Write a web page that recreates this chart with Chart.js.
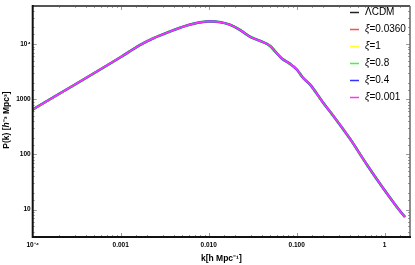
<!DOCTYPE html>
<html>
<head>
<meta charset="utf-8">
<script src="https://cdn.jsdelivr.net/npm/chart.js@4/dist/chart.umd.min.js"></script>
<style>
  html, body { margin: 0; padding: 0; background: #fff; }
  canvas { display: block; }
</style>
</head>
<body>
<canvas id="pk-chart" width="415" height="265"></canvas>
<script>
/* ─── Data ────────────────────────────────────────────────────────────── */
const kValues = [0.0001, 0.001, 0.00166, 0.00233, 0.00363, 0.00613, 0.01035, 0.01343,
  0.01746, 0.0227, 0.0295, 0.0383, 0.0497, 0.0567, 0.068, 0.0839, 0.1007, 0.118,
  0.1417, 0.199, 0.258, 0.403, 0.63, 0.957, 1.49, 1.70];
// all models overlap at this scale, so they share one curve
const pValues = [650, 5800, 9600, 12640, 16870, 22490, 25640, 24900,
  22280, 17990, 13550, 11400, 9290, 7410, 5450, 4390, 3430, 2440,
  1850, 873, 512, 193, 64.7, 24.7, 9.5, 7.4];

const seriesNames  = ["ΛCDM", "ξ=0.0360", "ξ=1", "ξ=0.8", "ξ=0.4", "ξ=0.001"];
const seriesColors = ["#222222", "#ff4d4d", "#ffff33", "#33ff33", "#3333ff", "#ff33ff"];
const seriesWidths = [2, 2, 2, 2.8, 2.2, 1.7];

const xTickValues = [0.0001, 0.001, 0.01, 0.1, 1];
const xTickLabels = ["10⁻⁴", "0.001", "0.010", "0.100", "1"];
const yTickValues = [10, 100, 1000, 10000];
const yTickLabels = ["10", "100", "1000", "10⁴"];

const FONT = "'Liberation Sans', Arial, sans-serif";

/* ─── Helpers ─────────────────────────────────────────────────────────── */
function labelFor(values, labels, v) {
  const i = values.findIndex(t => Math.abs(Math.log10(t) - Math.log10(v)) < 1e-6);
  return i >= 0 ? labels[i] : "";
}
function isDecade(v) {
  const l = Math.log10(v);
  return Math.abs(l - Math.round(l)) < 1e-6;
}
// draw text pieces [{t, it}] centred on (0,0)
function drawPieces(ctx, pieces, size, weight) {
  const fontOf = p => `${p.it ? "italic " : ""}${weight} ${size}px ${FONT}`;
  let w = 0;
  pieces.forEach(p => { ctx.font = fontOf(p); w += ctx.measureText(p.t).width; });
  let x = -w / 2;
  ctx.textAlign = "left";
  ctx.textBaseline = "middle";
  pieces.forEach(p => {
    ctx.font = fontOf(p);
    ctx.fillText(p.t, x, 0);
    x += ctx.measureText(p.t).width;
  });
}

/* ─── Frame, inward ticks, titles, legend ────────────────────────────── */
const decorPlugin = {
  id: "decor",
  afterDraw(chart) {
    const ctx = chart.ctx;
    const a = chart.chartArea;
    const xs = chart.scales.x, ys = chart.scales.y;
    ctx.save();

    // inward ticks on all four sides
    ctx.strokeStyle = "#9a9a9a";
    ctx.lineWidth = 1;
    ctx.beginPath();
    xs.ticks.forEach(t => {
      if (t.value <= xs.min || t.value >= xs.max) return;
      const px = Math.round(xs.getPixelForValue(t.value)) + 0.5;
      const len = isDecade(t.value) ? 4 : 2;
      ctx.moveTo(px, a.bottom); ctx.lineTo(px, a.bottom - len);
      ctx.moveTo(px, a.top);    ctx.lineTo(px, a.top + len);
    });
    ys.ticks.forEach(t => {
      if (t.value <= ys.min || t.value >= ys.max) return;
      const py = Math.round(ys.getPixelForValue(t.value)) + 0.5;
      const len = isDecade(t.value) ? 4 : 2;
      ctx.moveTo(a.left, py);  ctx.lineTo(a.left + len, py);
      ctx.moveTo(a.right, py); ctx.lineTo(a.right - len, py);
    });
    ctx.stroke();

    // frame
    ctx.strokeStyle = "#555";
    ctx.lineWidth = 2;
    ctx.beginPath();
    ctx.moveTo(a.left, a.top); ctx.lineTo(a.right, a.top);
    ctx.stroke();
    ctx.strokeStyle = "#666";
    ctx.lineWidth = 1.5;
    ctx.beginPath();
    ctx.moveTo(a.right, a.top); ctx.lineTo(a.right, a.bottom);
    ctx.stroke();
    ctx.strokeStyle = "#111";
    ctx.lineWidth = 2;
    ctx.beginPath();
    ctx.moveTo(a.left, a.top - 1); ctx.lineTo(a.left, a.bottom); ctx.lineTo(a.right + 1, a.bottom);
    ctx.stroke();

    // axis titles
    ctx.fillStyle = "#000";
    ctx.save();
    ctx.translate((a.left + a.right) / 2, 259);
    drawPieces(ctx, [{ t: "k[h Mpc⁻¹]" }], 8.5, "bold");
    ctx.restore();

    ctx.save();
    ctx.translate(7, 120);
    ctx.rotate(-Math.PI / 2);
    drawPieces(ctx, [{ t: "P(k) [" }, { t: "h", it: true }, { t: "⁻³ Mpc³]" }], 8.5, "bold");
    ctx.restore();

    // legend, inside top-right
    chart.data.datasets.forEach((ds, i) => {
      const y = 12.5 + i * 17;
      ctx.strokeStyle = ds.borderColor;
      ctx.lineWidth = 1.5;
      ctx.beginPath();
      ctx.moveTo(350, y); ctx.lineTo(359, y);
      ctx.stroke();
      ctx.fillStyle = "#000";
      ctx.textAlign = "left";
      ctx.textBaseline = "middle";
      let x = 365;
      let txt = ds.label;
      if (txt.startsWith("ξ")) {
        ctx.font = `italic 10px ${FONT}`;
        ctx.fillText("ξ", x, y);
        x += ctx.measureText("ξ").width;
        txt = txt.slice(1);
      }
      ctx.font = `10px ${FONT}`;
      ctx.fillText(txt, x, y);
    });

    ctx.restore();
  },
};

/* ─── Chart ──────────────────────────────────────────────────────────── */
const points = kValues.map((k, i) => ({ x: k, y: pValues[i] }));

new Chart(document.getElementById("pk-chart").getContext("2d"), {
  type: "line",
  data: {
    datasets: seriesNames.map((name, i) => ({
      label: name,
      data: points,
      borderColor: seriesColors[i],
      borderWidth: seriesWidths[i],
      order: seriesNames.length - i,   // later series drawn on top
      pointRadius: 0,
      fill: false,
      cubicInterpolationMode: "monotone",
    })),
  },
  options: {
    responsive: false, animation: false,
    layout: { padding: { top: 2, right: 5, left: 0, bottom: 0 } },
    plugins: { legend: { display: false }, tooltip: { enabled: false } },
    scales: {
      x: {
        type: "logarithmic", min: 0.0001, max: 1.94,
        grid: { display: false, drawTicks: false },
        border: { display: false },
        ticks: {
          autoSkip: false, maxRotation: 0, padding: 4, color: "#000",
          font: { size: 6.5, weight: "bold", family: FONT },
          callback: v => labelFor(xTickValues, xTickLabels, v),
        },
        afterFit: s => { s.height = 28; },
      },
      y: {
        type: "logarithmic", min: 3.2, max: 49000,
        grid: { display: false, drawTicks: false },
        border: { display: false },
        ticks: {
          autoSkip: false, padding: 2, color: "#000",
          font: { size: 6.5, weight: "bold", family: FONT },
          callback: v => labelFor(yTickValues, yTickLabels, v),
        },
        afterFit: s => { s.width = 32.7; },
      },
    },
  },
  plugins: [decorPlugin],
});
</script>
</body>
</html>
